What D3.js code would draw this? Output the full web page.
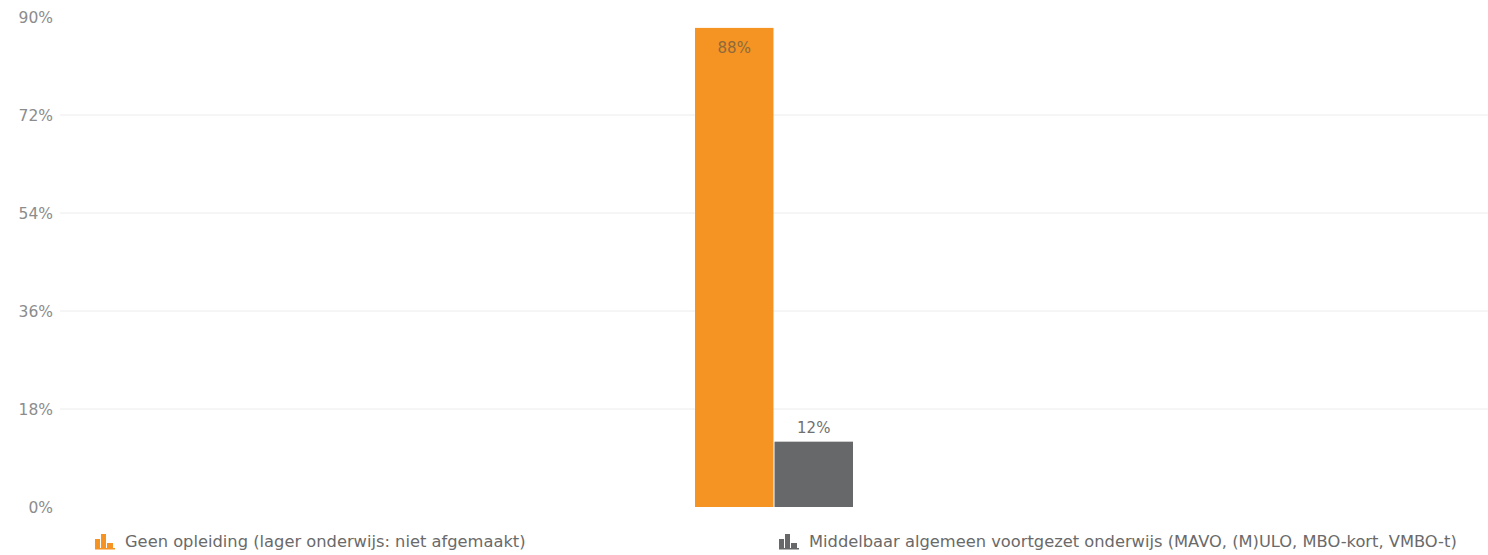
<html>
<head>
<script src="https://cdn.jsdelivr.net/npm/d3@7"></script>
<style>
  body { margin: 0; background: #fff; }
  text { font-family: "DejaVu Sans", Verdana, sans-serif; }
</style>
</head>
<body>
<svg width="1488" height="555"></svg>
<script>
var categories = [""];
var seriesNames = [
  "Geen opleiding (lager onderwijs: niet afgemaakt)",
  "Middelbaar algemeen voortgezet onderwijs (MAVO, (M)ULO, MBO-kort, VMBO-t)"
];
var seriesValues = [88, 12];
var seriesColors = ["#f59423", "#666869"];
var yTicks = [0, 18, 36, 54, 72, 90];

var svg = d3.select("svg");
var plotLeft = 60, plotRight = 1488, plotTop = 17, plotBottom = 507;

var y = d3.scaleLinear().domain([0, 90]).range([plotBottom, plotTop]);
var x0 = d3.scaleBand().domain(categories).range([plotLeft, plotRight]);
var x1 = d3.scaleBand().domain(seriesNames).range([-79, 79]).paddingInner(0.013);

// gridlines
svg.append("g").selectAll("line")
  .data(yTicks.filter(function(d) { return d > 0 && d < 90; }))
  .enter().append("line")
  .attr("x1", plotLeft).attr("x2", plotRight)
  .attr("y1", function(d) { return y(d); }).attr("y2", function(d) { return y(d); })
  .attr("stroke", "#ececec").attr("stroke-width", 1);

// y labels
svg.append("g").selectAll("text")
  .data(yTicks).enter().append("text")
  .attr("x", 53).attr("y", function(d) { return y(d) + 6; })
  .attr("text-anchor", "end")
  .attr("font-size", "15.5px").attr("fill", "#8c8c8c")
  .text(function(d) { return d + "%"; });

var cx = x0("") + x0.bandwidth() / 2;
var bars = svg.append("g").attr("transform", "translate(" + cx + ",0)");

bars.selectAll("rect")
  .data(seriesValues).enter().append("rect")
  .attr("x", function(d, i) { return x1(seriesNames[i]); })
  .attr("width", x1.bandwidth())
  .attr("y", function(d) { return y(d); })
  .attr("height", function(d) { return plotBottom - y(d); })
  .attr("fill", function(d, i) { return seriesColors[i]; });

bars.selectAll("text.val")
  .data(seriesValues).enter().append("text")
  .attr("class", "val")
  .attr("x", function(d, i) { return x1(seriesNames[i]) + x1.bandwidth() / 2; })
  .attr("y", function(d) { return d > 50 ? y(d) + 25 : y(d) - 9; })
  .attr("text-anchor", "middle")
  .attr("font-size", "15px")
  .attr("fill", function(d) { return d > 50 ? "#8d6a3c" : "#707070"; })
  .text(function(d) { return d + "%"; });

// legend
var legendX = [95, 779];
var leg = svg.append("g").selectAll("g")
  .data(seriesNames).enter().append("g")
  .attr("transform", function(d, i) { return "translate(" + legendX[i] + ",532)"; });

leg.each(function(d, i) {
  var g = d3.select(this);
  var c = seriesColors[i];
  g.append("rect").attr("x", 0).attr("y", 7).attr("width", 5).attr("height", 10).attr("fill", c);
  g.append("rect").attr("x", 6).attr("y", 2).attr("width", 5).attr("height", 15).attr("fill", c);
  g.append("rect").attr("x", 12).attr("y", 11).attr("width", 6).attr("height", 6).attr("fill", c);
  g.append("rect").attr("x", 0).attr("y", 16).attr("width", 20).attr("height", 1.5).attr("fill", c);
  g.append("text").attr("x", 30).attr("y", 15)
    .attr("font-size", "16.3px").attr("fill", "#6a6a6a")
    .text(d);
});
</script>
</body>
</html>
